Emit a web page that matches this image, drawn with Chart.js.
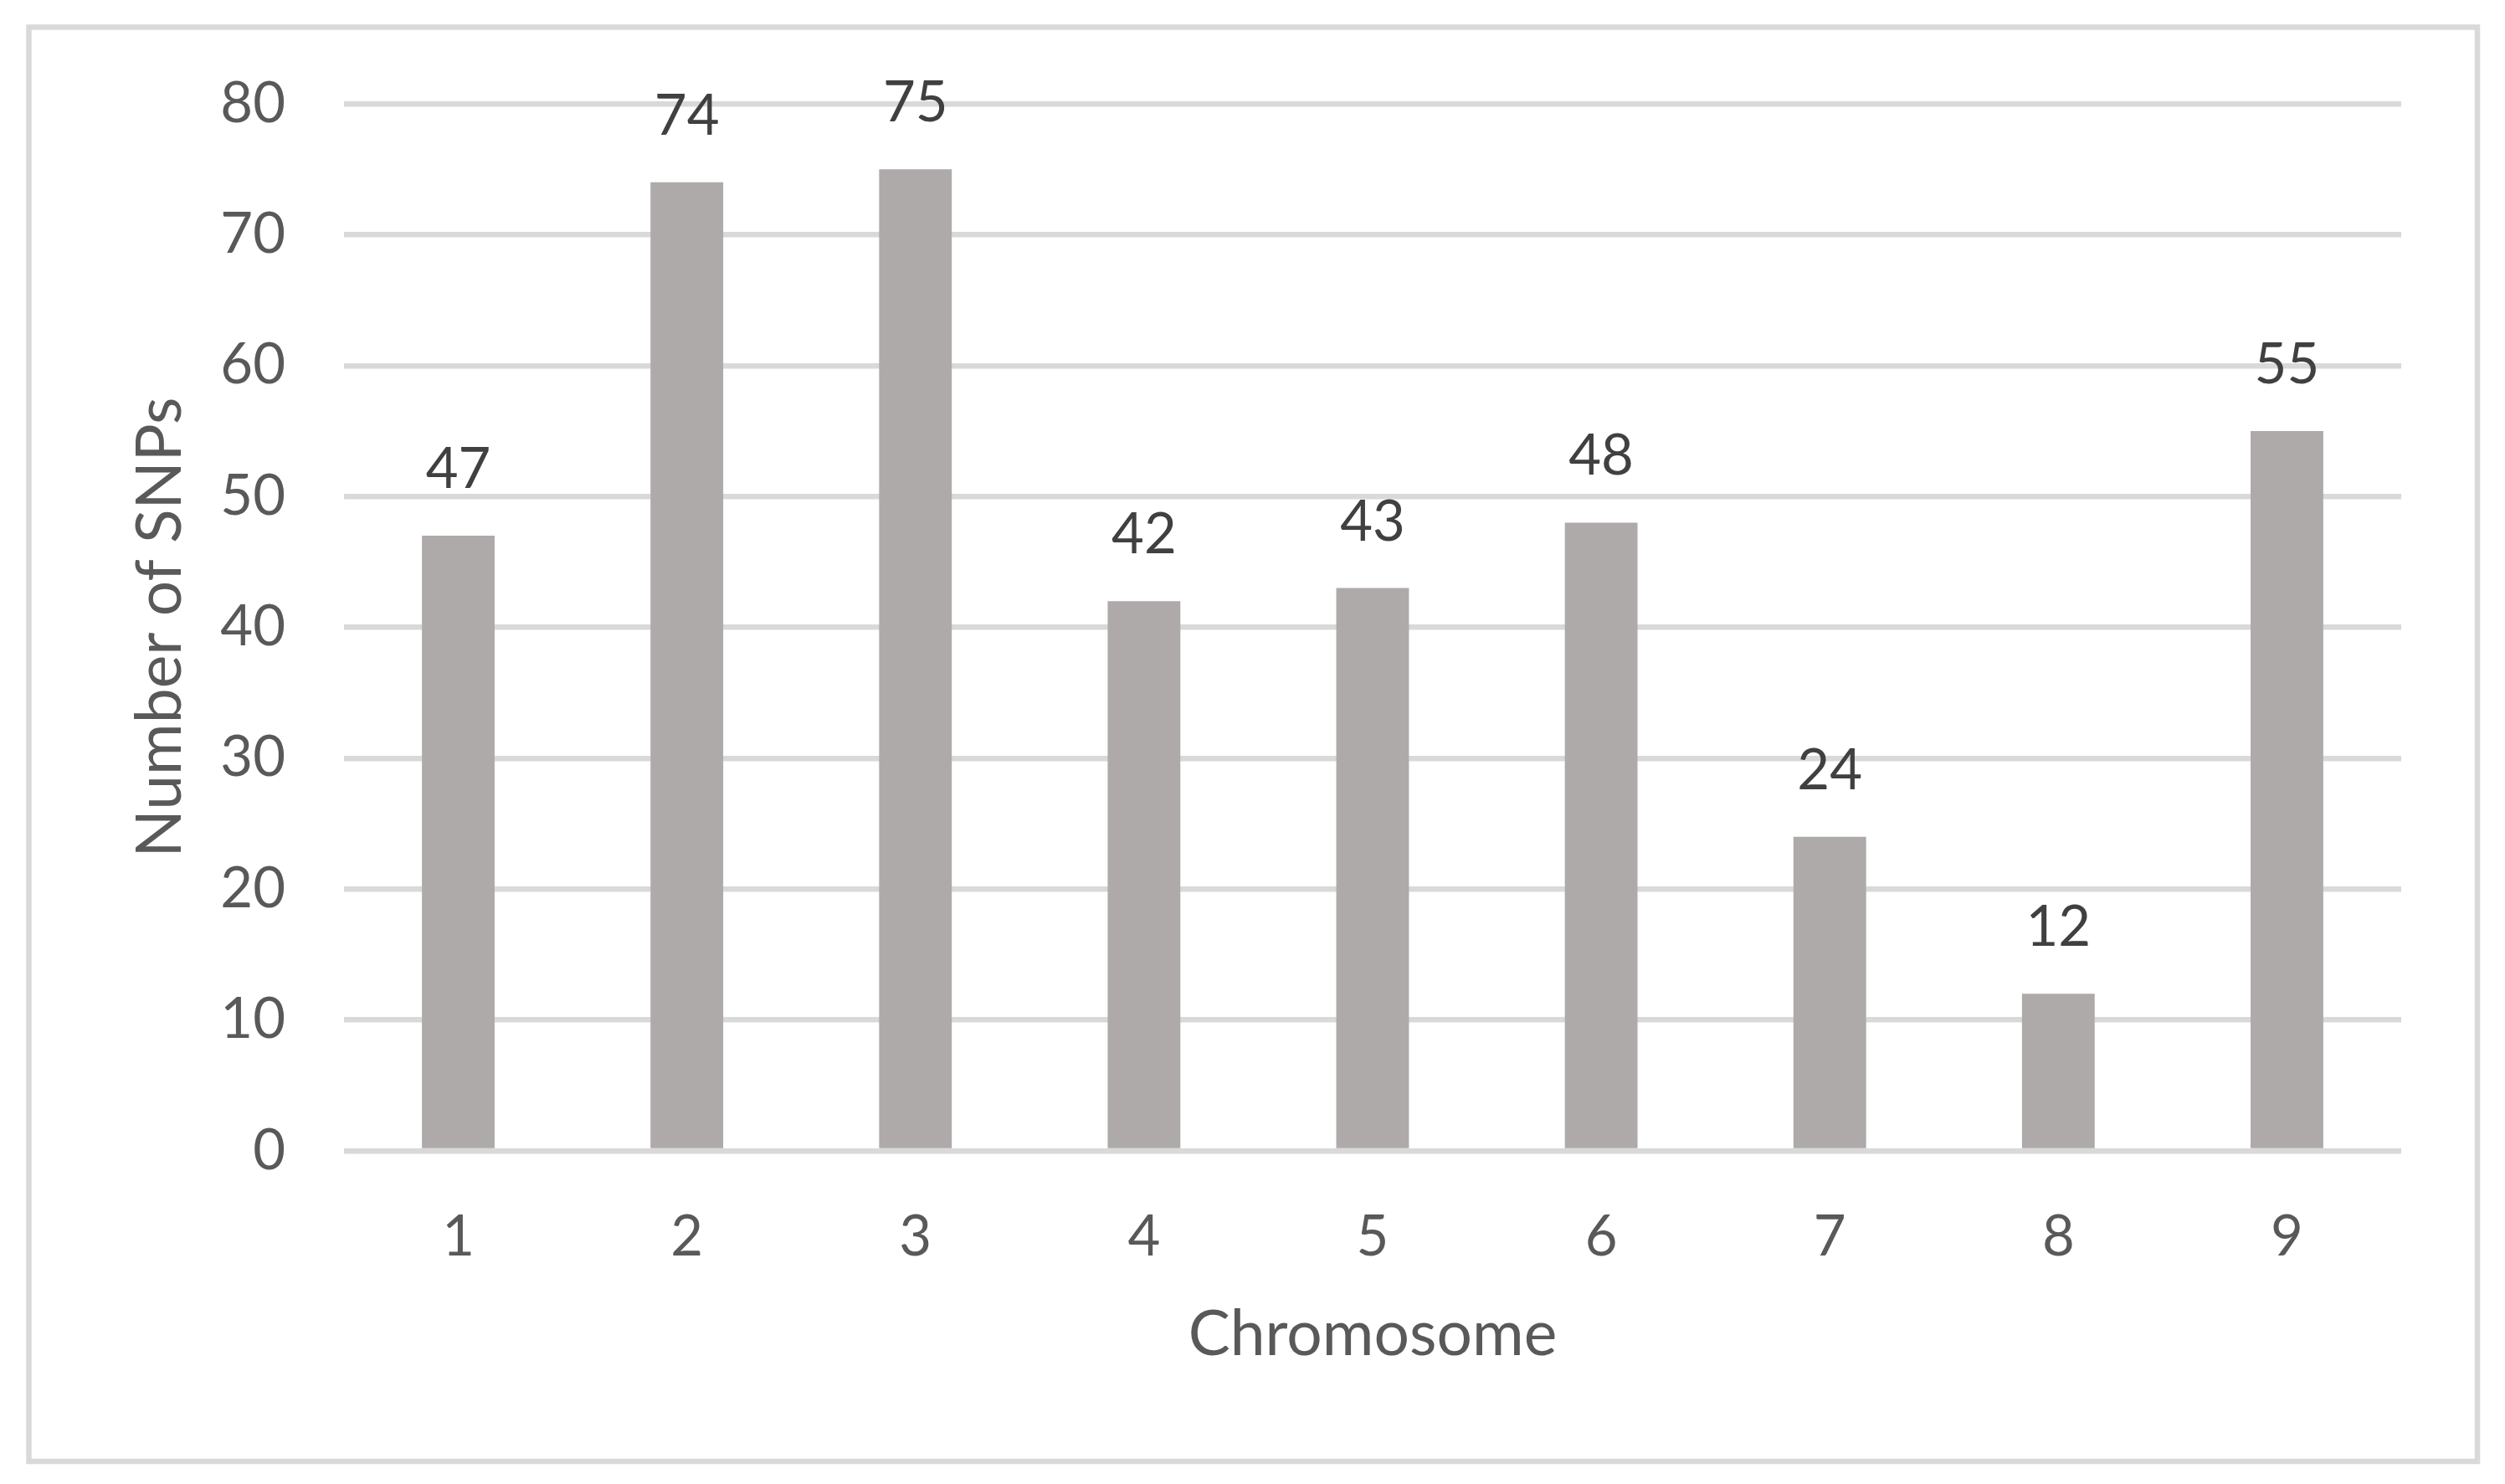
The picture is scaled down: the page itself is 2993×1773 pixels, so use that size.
<!DOCTYPE html>
<html>
<head>
<meta charset="utf-8">
<script src="https://cdn.jsdelivr.net/npm/chart.js@4/dist/chart.umd.min.js"></script>
<style>
  html, body { margin: 0; padding: 0; background: #ffffff; }
  #wrap { width: 2993px; height: 1773px; position: relative; }
  canvas { display: block; }
</style>
</head>
<body>
<div id="wrap"><canvas id="c" width="2993" height="1773"></canvas></div>
<script>
const categories = ['1', '2', '3', '4', '5', '6', '7', '8', '9'];
const snpCounts = [47, 74, 75, 42, 43, 48, 24, 12, 55];
const yTicks = [0, 10, 20, 30, 40, 50, 60, 70, 80];
const xTitle = 'Chromosome';
const yTitle = 'Number of SNPs';

const FONT = 'Lato, "Open Sans", sans-serif';

const frameAndLabels = {
  id: 'frameAndLabels',
  beforeDraw(chart) {
    const ctx = chart.ctx;
    ctx.save();
    ctx.fillStyle = '#ffffff';
    ctx.fillRect(0, 0, chart.width, chart.height);
    ctx.strokeStyle = '#d9d9d9';
    ctx.lineWidth = 6.5;
    ctx.strokeRect(34.5, 32.5, 2960 - 34.5, 1746 - 32.5);
    ctx.restore();
  },
  afterDatasetsDraw(chart) {
    const ctx = chart.ctx;
    const meta = chart.getDatasetMeta(0);
    const data = chart.data.datasets[0].data;
    ctx.save();
    ctx.font = '67px ' + FONT;
    ctx.fillStyle = '#404040';
    ctx.textAlign = 'center';
    ctx.textBaseline = 'alphabetic';
    meta.data.forEach((bar, i) => {
      ctx.fillText(String(data[i]), bar.x, bar.y - 57);
    });
    ctx.restore();
  }
};

new Chart(document.getElementById('c'), {
  type: 'bar',
  data: {
    labels: categories,
    datasets: [{
      data: snpCounts,
      backgroundColor: '#aeaaaa',
      borderWidth: 0,
      barPercentage: 0.318,
      categoryPercentage: 1.0
    }]
  },
  options: {
    responsive: false,
    animation: false,
    devicePixelRatio: 1,
    layout: { padding: { left: 0, right: 124, top: 124, bottom: 0 } },
    plugins: {
      legend: { display: false },
      tooltip: { enabled: false },
      title: { display: false }
    },
    scales: {
      x: {
        grid: { display: false, drawTicks: false },
        border: { display: false },
        ticks: {
          color: '#595959',
          font: { family: FONT, size: 67, lineHeight: 1.2 },
          padding: 63,
          maxRotation: 0
        },
        title: {
          display: true,
          text: xTitle,
          color: '#595959',
          font: { family: FONT, size: 75, lineHeight: 1 },
          padding: { top: 0, bottom: 141 }
        },
        afterFit(scale) { scale.height = 398; }
      },
      y: {
        min: 0,
        max: 80,
        afterBuildTicks(scale) { scale.ticks = yTicks.map(v => ({ value: v })); },
        grid: { color: '#d9d9d9', lineWidth: 6.5, drawTicks: false },
        border: { display: false },
        ticks: {
          color: '#595959',
          font: { family: FONT, size: 67, lineHeight: 1.2 },
          padding: 70
        },
        title: {
          display: true,
          text: yTitle,
          color: '#595959',
          font: { family: FONT, size: 75, lineHeight: 1 },
          padding: { top: 154, bottom: 0 }
        },
        afterFit(scale) { scale.width = 411; }
      }
    }
  },
  plugins: [frameAndLabels]
});
</script>
</body>
</html>
